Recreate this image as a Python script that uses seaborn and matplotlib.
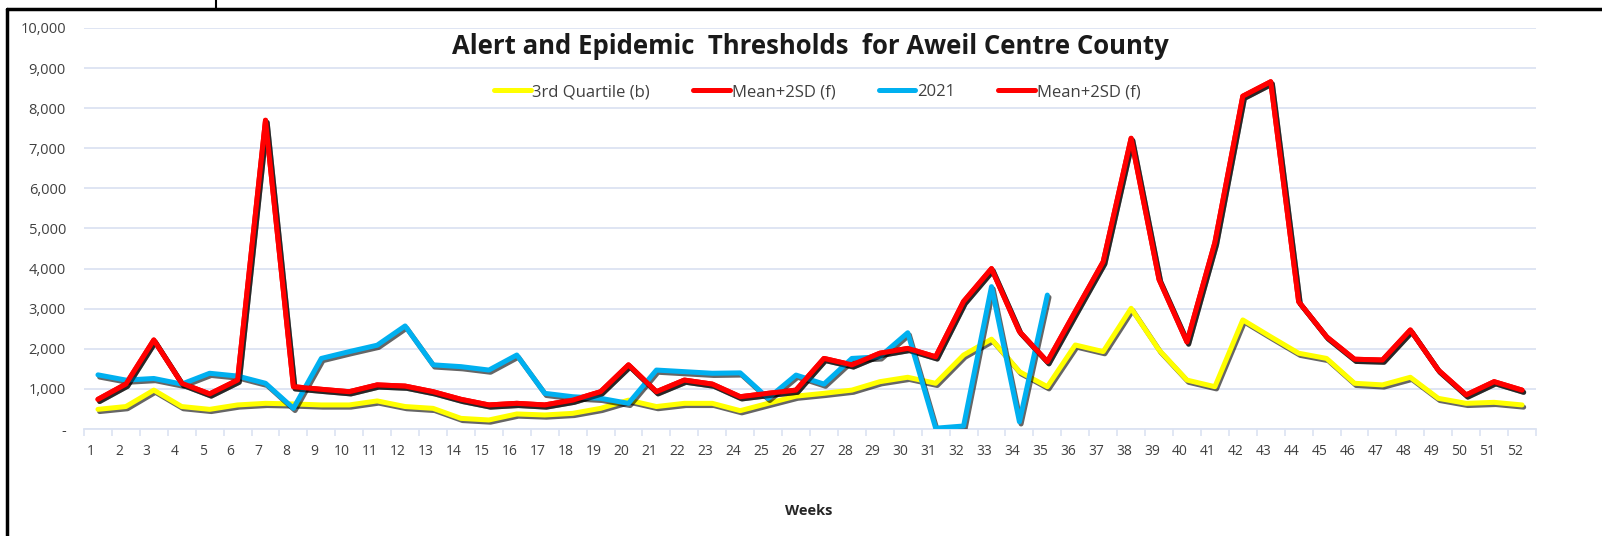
import numpy as np
import pandas as pd
import matplotlib
matplotlib.use("Agg")
import matplotlib.pyplot as plt
import matplotlib.patheffects as pe
import matplotlib.transforms as mtransforms
from matplotlib.lines import Line2D
from matplotlib.ticker import FuncFormatter, FixedLocator
import seaborn as sns

weeks = list(range(1, 53))

q3_b = [490, 560, 970, 560, 490, 600, 640, 625, 600, 600, 700, 560, 515, 265,
        225, 375, 350, 390, 515, 720, 560, 640, 640, 457, 640, 820, 890, 970,
        1180, 1290, 1140, 1845, 2240, 1430, 1055, 2095, 1930, 3010, 1970, 1220,
        1055, 2720, 2300, 1890, 1760, 1140, 1100, 1290, 765, 640, 665, 600]

mean2sd_f = [740, 1120, 2220, 1140, 875, 1220, 7700, 1055, 990, 930, 1100, 1070,
             930, 740, 600, 640, 600, 720, 930, 1600, 930, 1220, 1120, 805, 890,
             970, 1760, 1600, 1890, 2010, 1800, 3180, 4000, 2430, 1680, 2930,
             4170, 7250, 3730, 2170, 4650, 8300, 8660, 3175, 2300, 1740, 1720,
             2470, 1470, 850, 1180, 970]

cases_2021 = [1350, 1220, 1260, 1120, 1390, 1320, 1140, 515, 1760, 1930, 2090,
              2570, 1600, 1555, 1470, 1845, 890, 805, 765, 640, 1470, 1430, 1390,
              1400, 765, 1345, 1120, 1760, 1800, 2400, 20, 75, 3550, 180, 3340]

series_names = ["3rd Quartile (b)", "Mean+2SD (f)", "2021", "Mean+2SD (f)"]
series_colors = ["#FFFF00", "#FF0000", "#00B0F0", "#FF0000"]

y_ticks = [0, 1000, 2000, 3000, 4000, 5000, 6000, 7000, 8000, 9000, 10000]

title = "Alert and Epidemic  Thresholds  for Aweil Centre County"
x_label = "Weeks"

sns.set_style("white")
plt.rcParams['font.family'] = ['Open Sans', 'DejaVu Sans']

W, H = 1602, 536
fig = plt.figure(figsize=(W / 100, H / 100), dpi=100)
fig.patch.set_facecolor("white")
ax = fig.add_axes([84 / W, 1 - 429 / H, (1536 - 84) / W, (429 - 28) / H])

blue_full = cases_2021 + [np.nan] * (len(weeks) - len(cases_2021))
data_list = [q3_b, mean2sd_f, blue_full, mean2sd_f]

shadow = [pe.SimpleLineShadow(offset=(1.2, -1.6), shadow_color="black", alpha=0.6),
          pe.Normal()]

for i, (vals, name, col) in enumerate(zip(data_list, series_names, series_colors)):
    df = pd.DataFrame({"week": weeks, "value": vals})
    sns.lineplot(data=df, x="week", y="value", ax=ax, color=col, linewidth=3.6,
                 label=name, zorder=3 + i, path_effects=shadow, estimator=None)

ax.set_xlim(0.5, 52.5)
ax.set_ylim(0, 10000)
ax.yaxis.set_major_locator(FixedLocator(y_ticks))
ax.yaxis.set_major_formatter(FuncFormatter(lambda v, p: "-" if v == 0 else f"{int(v):,}"))
ax.xaxis.set_major_locator(FixedLocator(weeks))
ax.set_xticklabels([str(w) for w in weeks])
ax.xaxis.set_minor_locator(FixedLocator(np.arange(0.5, 53, 1)))

ax.grid(axis="y", color="#DCE3F2", linewidth=1.3)
ax.grid(axis="x", visible=False)
ax.set_axisbelow(True)
for s in ["top", "right", "left"]:
    ax.spines[s].set_visible(False)
ax.spines["bottom"].set_color("#DCE3F2")
ax.spines["bottom"].set_linewidth(1.3)

ax.tick_params(axis="y", length=0, pad=13, labelsize=10.5, labelcolor="#404040")
ax.tick_params(axis="x", which="major", length=0, pad=11, labelsize=10, labelcolor="#404040")
ax.tick_params(axis="x", which="minor", length=5, color="#DCE3F2", width=1.2, bottom=True)
ax.set_xlabel("")
ax.set_ylabel("")

shift = mtransforms.ScaledTranslation(-7 / 100, 0, fig.dpi_scale_trans)
for lab in ax.get_xticklabels():
    lab.set_transform(lab.get_transform() + shift)

ax.text(0.5, 0.955, title, transform=ax.transAxes, ha="center", va="center",
        fontsize=18.5, fontweight="bold", color="#1a1a1a")

handles = [Line2D([], [], color=c, linewidth=3.6) for c in series_colors]
leg = ax.legend(handles, series_names, loc="center", bbox_to_anchor=(0.505, 0.84),
                ncol=4, frameon=False, fontsize=12, handlelength=2.2,
                handletextpad=0.1, columnspacing=2.6)
for t in leg.get_texts():
    t.set_color("#404040")

fig.text(809 / W, 1 - 511 / H, x_label, ha="center", va="center",
         fontsize=10.5, fontweight="bold", color="#262626")

# outer frame fragments
fig.add_artist(Line2D([7 / W, 7 / W], [0, 1 - 9 / H], transform=fig.transFigure,
                      color="black", linewidth=2.5))
fig.add_artist(Line2D([7 / W, 1], [1 - 9 / H, 1 - 9 / H], transform=fig.transFigure,
                      color="black", linewidth=2.5))
fig.add_artist(Line2D([216 / W, 216 / W], [1 - 9 / H, 1], transform=fig.transFigure,
                      color="black", linewidth=1.5))

fig.savefig("out.png", dpi=100, facecolor="white")
